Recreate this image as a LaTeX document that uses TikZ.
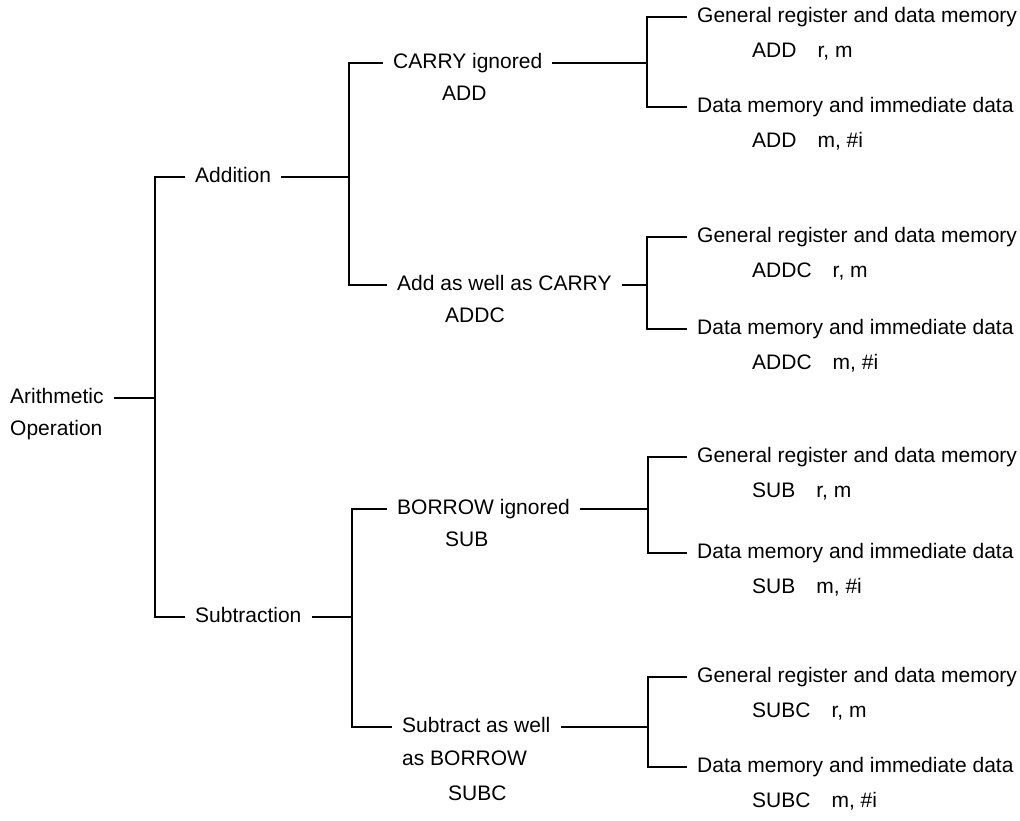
\documentclass[tikz,border=0pt]{standalone}
\usepackage{fontspec}
\setmainfont{Liberation Sans}
\usetikzlibrary{positioning}
\tikzset{item/.style={anchor=west,inner xsep=10pt,inner ysep=0pt,text height=15pt,text depth=4pt,font=\fontsize{21}{25}\selectfont},link/.style={line width=1.5pt,draw=black}}
\begin{document}
\begin{tikzpicture}[x=1pt,y=-1pt]
      \useasboundingbox (0,0) rectangle (1020,821);
      \node[item](arith) at (0,398){Arithmetic};
      \node[item](oper) at (0,430){Operation};
      \node[item](addn) at (185,177){Addition};
      \node[item](subn) at (185,617){Subtraction};
      \node[item](carry) at (383,63){CARRY ignored};
      \node[item](add) at (432,95){ADD};
      \node[item](addc) at (387,285){Add as well as CARRY};
      \node[item](addcop) at (435,317){ADDC};
      \node[item](borrow) at (387,509){BORROW ignored};
      \node[item](sub) at (435,541){SUB};
      \node[item](subtr) at (392,727){Subtract as well};
      \node[item](asborrow) at (392,760){as BORROW};
      \node[item](subc) at (438,795){SUBC};
      \node[item](regA) at (687,17){General register and data memory};
      \node[item](opA) at (742,52){ADD\hspace{1em}r, m};
      \node[item](immA) at (687,107){Data memory and immediate data};
      \node[item](opA2) at (742,142){ADD\hspace{1em}m, \#i};
      \node[item](regB) at (687,237){General register and data memory};
      \node[item](opB) at (742,272){ADDC\hspace{1em}r, m};
      \node[item](immB) at (687,329){Data memory and immediate data};
      \node[item](opB2) at (742,364){ADDC\hspace{1em}m, \#i};
      \node[item](regC) at (687,457){General register and data memory};
      \node[item](opC) at (742,492){SUB\hspace{1em}r, m};
      \node[item](immC) at (687,553){Data memory and immediate data};
      \node[item](opC2) at (742,588){SUB\hspace{1em}m, \#i};
      \node[item](regD) at (687,677){General register and data memory};
      \node[item](opD) at (742,712){SUBC\hspace{1em}r, m};
      \node[item](immD) at (687,767){Data memory and immediate data};
      \node[item](opD2) at (742,802){SUBC\hspace{1em}m, \#i};
      \coordinate(jm) at (155,398);\coordinate(ja) at (349,177);\coordinate(js) at (352,617);
      \coordinate(j1) at (647,63);\coordinate(j2) at (647,285);\coordinate(j3) at (648,509);\coordinate(j4) at (648,727);
      \draw[link](arith.east)--(jm);
      \draw[link](addn.west)-|(jm)|-(subn.west);
      \draw[link](addn.east)--(ja);\draw[link](carry.west)-|(ja)|-(addc.west);
      \draw[link](subn.east)--(js);\draw[link](borrow.west)-|(js)|-(subtr.west);
      \draw[link](carry.east)--(j1);\draw[link](regA.west)-|(j1)|-(immA.west);
      \draw[link](addc.east)--(j2);\draw[link](regB.west)-|(j2)|-(immB.west);
      \draw[link](borrow.east)--(j3);\draw[link](regC.west)-|(j3)|-(immC.west);
      \draw[link](subtr.east)--(j4);\draw[link](regD.west)-|(j4)|-(immD.west);
    \end{tikzpicture}
\end{document}
